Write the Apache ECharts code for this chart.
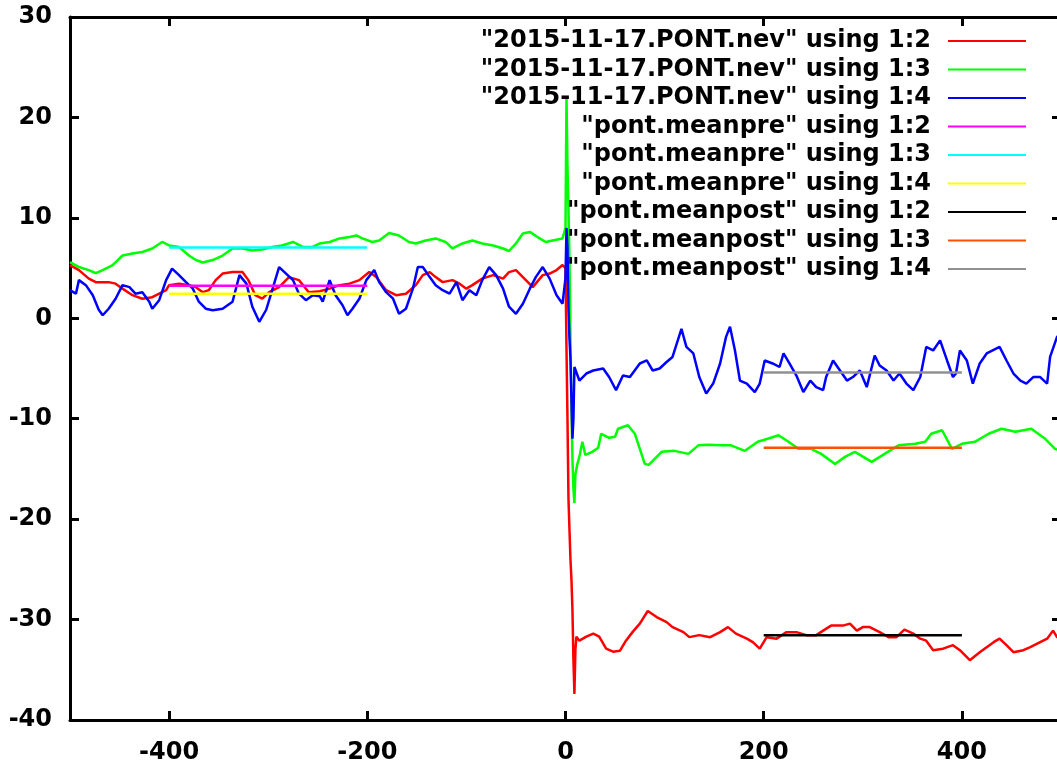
<!DOCTYPE html>
<html>
<head>
<meta charset="utf-8">
<style>html,body{margin:0;padding:0;background:#fff;}#chart{width:1057px;height:764px;}</style>
<script src="https://cdn.jsdelivr.net/npm/echarts@6/dist/echarts.min.js"></script>
</head>
<body>
<div id="chart"></div>
<script>
// ---- data ----
const seriesNames = [
  '"2015-11-17.PONT.nev" using 1:2',
  '"2015-11-17.PONT.nev" using 1:3',
  '"2015-11-17.PONT.nev" using 1:4',
  '"pont.meanpre" using 1:2',
  '"pont.meanpre" using 1:3',
  '"pont.meanpre" using 1:4',
  '"pont.meanpost" using 1:2',
  '"pont.meanpost" using 1:3',
  '"pont.meanpost" using 1:4'
];
const seriesColors = ['#ff0000','#00ff00','#0000ff','#ff00ff','#00ffff','#ffff00','#000000','#ff5000','#909090'];
const xTicks = [-400, -200, 0, 200, 400];
const yTicks = [-40, -30, -20, -10, 0, 10, 20, 30];

const nevCol2 = [[-500,5.3],[-491,4.8],[-481,3.95],[-474,3.6],[-461,3.6],[-454,3.45],[-447,2.95],[-437,2.3],[-427,1.95],[-417,2.1],[-410,2.45],[-403,2.8],[-400,3.3],[-390,3.45],[-380,3.3],[-373,3.1],[-366,2.6],[-360,2.8],[-353,3.8],[-346,4.45],[-336,4.6],[-326,4.6],[-320,3.8],[-313,2.3],[-306,1.95],[-299,2.6],[-289,3.1],[-279,4.1],[-269,3.8],[-259,2.6],[-248,2.7],[-238,2.95],[-228,3.3],[-218,3.45],[-208,3.8],[-198,4.6],[-191,4.1],[-181,2.8],[-171,2.3],[-161,2.45],[-151,3.3],[-144,4.3],[-137,4.6],[-131,4.1],[-124,3.6],[-114,3.8],[-107,3.45],[-100,2.95],[-94,3.3],[-84,3.95],[-73,4.3],[-63,3.95],[-57,4.6],[-50,4.8],[-40,3.8],[-33,3.1],[-23,4.3],[-16,4.45],[-9,4.8],[-3,5.3],[0,5.0],[1,-3],[2,-10],[3,-18],[4,-21],[5,-24],[6,-26],[7,-29],[8,-34],[9,-37.4],[10,-33],[11,-31.7],[14,-32.1],[21,-31.7],[28,-31.4],[34,-31.7],[41,-32.9],[48,-33.2],[55,-33.1],[61,-32.1],[68,-31.2],[75,-30.4],[83,-29.15],[92,-29.75],[102,-30.25],[108,-30.75],[119,-31.25],[125,-31.75],[135,-31.55],[146,-31.75],[156,-31.25],[164,-30.75],[172,-31.4],[183,-31.9],[189,-32.25],[196,-32.9],[203,-31.75],[213,-31.9],[223,-31.25],[233,-31.25],[243,-31.55],[253,-31.55],[260,-31.1],[268,-30.6],[280,-30.6],[287,-30.4],[294,-31.1],[300,-30.75],[307,-30.75],[317,-31.25],[326,-31.75],[334,-31.75],[342,-31.0],[351,-31.4],[358,-31.9],[364,-32.1],[371,-33.05],[381,-32.9],[391,-32.55],[398,-33.05],[408,-34.05],[418,-33.25],[425,-32.75],[432,-32.25],[438,-31.9],[445,-32.55],[452,-33.25],[462,-33.05],[469,-32.75],[479,-32.25],[486,-31.9],[492,-31.1],[496,-31.75],[500,-31.9]];

const nevCol3 = [[-500,5.6],[-491,5.1],[-481,4.8],[-474,4.5],[-467,4.8],[-457,5.3],[-447,6.25],[-437,6.45],[-427,6.6],[-417,6.95],[-407,7.6],[-400,7.25],[-390,7.1],[-380,6.25],[-373,5.8],[-366,5.55],[-356,5.8],[-346,6.25],[-336,6.95],[-326,6.95],[-316,6.75],[-306,6.85],[-296,7.1],[-286,7.25],[-275,7.6],[-265,7.1],[-255,7.1],[-248,7.45],[-238,7.6],[-228,7.95],[-218,8.1],[-211,8.25],[-205,7.95],[-195,7.6],[-188,7.75],[-178,8.5],[-168,8.25],[-158,7.6],[-151,7.45],[-141,7.75],[-131,7.95],[-121,7.6],[-114,6.95],[-104,7.45],[-94,7.75],[-84,7.45],[-73,7.25],[-63,6.95],[-57,6.7],[-50,7.45],[-43,8.45],[-36,8.6],[-26,7.95],[-20,7.6],[-13,7.75],[-3,7.95],[0,9],[1,22],[2,15],[3,11],[4,6],[5,-2],[6,-9],[7,-14],[8,-17],[9,-18.4],[10,-15.5],[12,-14.5],[14,-13.8],[17,-12.3],[20,-13.6],[27,-13.3],[33,-12.9],[36,-11.5],[44,-11.9],[50,-11.8],[53,-11.0],[63,-10.65],[70,-11.5],[80,-14.5],[84,-14.6],[97,-13.3],[110,-13.2],[124,-13.5],[134,-12.65],[144,-12.6],[157,-12.65],[167,-12.65],[181,-13.2],[194,-12.3],[204,-12.0],[215,-11.65],[225,-12.3],[235,-13.0],[248,-13.0],[258,-13.5],[272,-14.5],[282,-13.8],[292,-13.3],[309,-14.3],[322,-13.5],[336,-12.65],[353,-12.5],[363,-12.3],[369,-11.5],[380,-11.15],[390,-13.0],[400,-12.5],[413,-12.3],[427,-11.5],[440,-11.0],[454,-11.3],[470,-11.0],[484,-12.0],[494,-13.0],[500,-13.2]];

const nevCol4 = [[-500,2.8],[-494,2.45],[-491,3.8],[-484,3.3],[-477,2.3],[-471,0.85],[-467,0.3],[-461,0.95],[-454,1.95],[-447,3.3],[-440,3.1],[-434,2.45],[-427,2.6],[-420,1.65],[-417,0.95],[-410,1.8],[-403,3.8],[-397,4.95],[-390,4.3],[-383,3.6],[-376,2.95],[-370,1.65],[-363,0.95],[-356,0.8],[-346,0.95],[-336,1.65],[-329,4.3],[-322,3.45],[-316,1.15],[-309,-0.35],[-302,0.85],[-296,2.8],[-289,5.1],[-282,4.45],[-275,3.8],[-269,2.45],[-262,1.8],[-255,2.3],[-248,2.2],[-245,1.65],[-238,3.8],[-232,2.3],[-225,1.3],[-220,0.3],[-215,0.95],[-208,1.95],[-201,3.8],[-193,4.8],[-188,3.6],[-181,2.6],[-174,1.95],[-168,0.45],[-161,0.95],[-154,2.95],[-149,5.1],[-144,5.1],[-137,4.1],[-131,3.3],[-124,2.8],[-117,2.45],[-110,3.6],[-104,1.8],[-97,2.8],[-90,2.3],[-84,3.8],[-77,5.1],[-70,4.3],[-63,2.95],[-57,1.15],[-50,0.45],[-43,1.45],[-36,2.95],[-30,4.1],[-23,5.1],[-16,3.95],[-9,2.3],[-3,1.45],[0,4],[1,9],[2,7],[3,1],[4,-2],[5,-4],[6,-8],[7,-12],[8,-10],[9,-4.85],[14,-6.2],[21,-5.5],[28,-5.2],[38,-5.0],[44,-5.85],[51,-7.15],[58,-5.7],[65,-5.85],[75,-4.5],[82,-4.2],[88,-5.2],[95,-5.0],[102,-4.35],[108,-3.85],[117,-1.05],[122,-2.85],[129,-3.5],[135,-5.85],[142,-7.5],[149,-6.5],[156,-4.5],[162,-1.85],[166,-0.85],[171,-3.2],[176,-6.2],[183,-6.5],[191,-7.35],[196,-6.5],[201,-4.2],[209,-4.5],[216,-4.85],[220,-3.5],[226,-4.5],[233,-5.7],[240,-7.35],[247,-6.2],[253,-6.85],[260,-7.15],[263,-5.85],[270,-4.2],[277,-5.2],[284,-6.2],[290,-5.85],[297,-5.2],[304,-6.85],[312,-3.7],[317,-4.7],[324,-5.2],[331,-6.2],[337,-5.5],[344,-6.5],[351,-7.15],[358,-5.85],[364,-2.85],[371,-3.2],[378,-2.2],[385,-4.2],[391,-5.85],[394,-5.5],[398,-3.2],[405,-4.2],[411,-6.5],[418,-4.5],[425,-3.5],[438,-2.85],[445,-4.2],[452,-5.5],[459,-6.2],[465,-6.5],[472,-5.85],[479,-5.85],[486,-6.5],[489,-3.85],[496,-1.85],[500,-1.5]];

const meanPreX = [-400, -200];
const meanPostX = [200, 400];
const meanPreValues = [3.25, 7.05, 2.45];     // columns 2,3,4
const meanPostValues = [-31.55, -12.9, -5.4]; // columns 2,3,4

// ---- chart ----
const FONT = 'DejaVu Sans';
const seriesData = [
  nevCol2, nevCol3, nevCol4,
  meanPreX.map(x => [x, meanPreValues[0]]),
  meanPreX.map(x => [x, meanPreValues[1]]),
  meanPreX.map(x => [x, meanPreValues[2]]),
  meanPostX.map(x => [x, meanPostValues[0]]),
  meanPostX.map(x => [x, meanPostValues[1]]),
  meanPostX.map(x => [x, meanPostValues[2]])
];

const chart = echarts.init(document.getElementById('chart'), null, {renderer: 'canvas'});
const axisCommon = {
  type: 'value',
  axisLine: {show: true, onZero: false, lineStyle: {color: '#000', width: 3}},
  splitLine: {show: false},
  axisTick: {show: true, inside: true, length: 9, lineStyle: {color: '#000', width: 3}}
};
const option = {
  animation: false,
  backgroundColor: '#fff',
  textStyle: {fontFamily: FONT},
  grid: {left: 70, right: -4, top: 17, bottom: 44, containLabel: false, outerBoundsMode: 'none'},
  xAxis: [
    Object.assign({}, axisCommon, {
      position: 'bottom', min: -500, max: 500,
      axisTick: Object.assign({}, axisCommon.axisTick, {customValues: xTicks}),
      axisLabel: {show: true, customValues: xTicks, margin: 21, color: '#000', fontFamily: FONT, fontWeight: 'bold', fontSize: 24,
        formatter: v => String(v)}
    }),
    Object.assign({}, axisCommon, {
      position: 'top', min: -500, max: 500,
      axisTick: Object.assign({}, axisCommon.axisTick, {customValues: xTicks}),
      axisLabel: {show: false}
    })
  ],
  yAxis: [
    Object.assign({}, axisCommon, {
      position: 'left', min: -40, max: 30, interval: 10,
      axisLabel: {show: true, margin: 18, color: '#000', fontFamily: FONT, fontWeight: 'bold', fontSize: 24,
        formatter: v => yTicks.indexOf(v) >= 0 ? String(v) : ''}
    }),
    Object.assign({}, axisCommon, {
      position: 'right', min: -40, max: 30, interval: 10,
      axisLabel: {show: false}
    })
  ],
  legend: {
    show: true,
    orient: 'vertical',
    align: 'right',
    right: 30,
    top: 29,
    padding: 0,
    itemGap: 4.5,
    itemWidth: 78,
    itemHeight: 14,
    selectedMode: false,
    data: seriesNames,
    itemStyle: {opacity: 0, borderWidth: 0},
    lineStyle: {width: 2, opacity: 1},
    textStyle: {color: '#000', fontFamily: FONT, fontWeight: 'bold', fontSize: 24, lineHeight: 24, padding: [0, 12, 0, 0]}
  },
  series: seriesNames.map((name, i) => ({
    name: name,
    type: 'line',
    xAxisIndex: 0,
    yAxisIndex: 0,
    data: seriesData[i],
    symbol: 'none',
    showSymbol: false,
    smooth: false,
    clip: true,
    color: seriesColors[i],
    lineStyle: {color: seriesColors[i], width: i < 3 ? 2.5 : 2.5},
    emphasis: {disabled: true},
    z: 2 + i
  }))
};
chart.setOption(option);
</script>
</body>
</html>
